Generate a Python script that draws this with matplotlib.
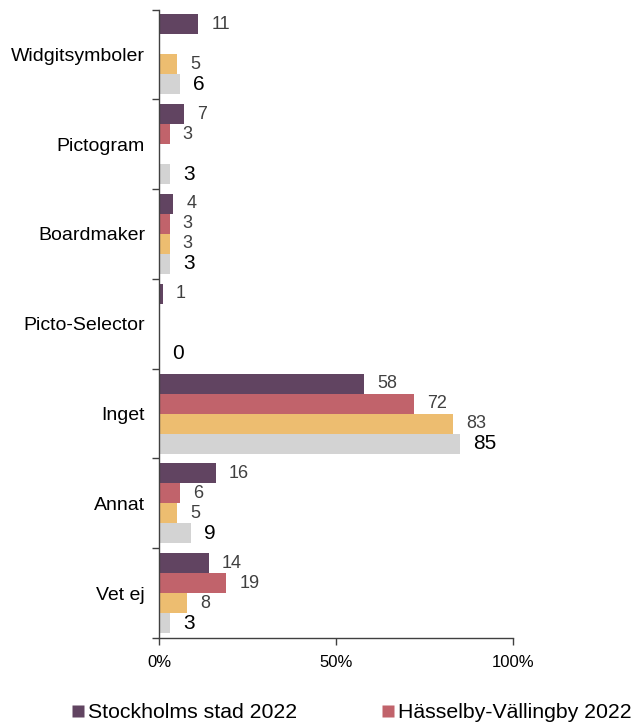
import matplotlib
matplotlib.use("Agg")
import matplotlib.pyplot as plt
from matplotlib.lines import Line2D
import numpy as np

plt.rcParams['font.family'] = ['Liberation Sans', 'DejaVu Sans']

categories = ["Widgitsymboler", "Pictogram", "Boardmaker", "Picto-Selector",
              "Inget", "Annat", "Vet ej"]
series_names = ["Stockholms stad 2022", "Hässelby-Vällingby 2022",
                "Serie 3", "Serie 4"]
stockholm_2022 = [11, 7, 4, 1, 58, 16, 14]
hasselby_2022 = [None, 3, 3, None, 72, 6, 19]
series_3 = [5, None, 3, None, 83, 5, 8]
series_4 = [6, 3, 3, 0, 85, 9, 3]
x_ticks = [0, 50, 100]

colors = ["#614461", "#C1636B", "#EDBD70", "#D3D3D3"]
label_colors = ["#404040", "#404040", "#404040", "#000000"]
label_sizes = [13, 13, 13, 15]

all_series = [stockholm_2022, hasselby_2022, series_3, series_4]

fig = plt.figure(figsize=(6.31, 7.25), dpi=100)
ax = fig.add_axes([159 / 631, 1 - 638 / 725, (513 - 159) / 631, (638 - 9.5) / 725])

n = len(categories)
bw = 0.2227
ypos = np.arange(n)
for j, (vals, col) in enumerate(zip(all_series, colors)):
    for i, v in enumerate(vals):
        if v is None:
            continue
        y = ypos[i] + (j - 1.5) * bw
        ax.barh(y, v, height=bw, color=col, edgecolor='none')
        ax.annotate(f"{v}", xy=(v, y), xytext=(9.5, 0), textcoords='offset points',
                    ha='left', va='center', fontsize=label_sizes[j],
                    color=label_colors[j])

ax.set_xlim(0, 100)
ax.set_ylim(n - 0.5, -0.5)
ax.set_xticks(x_ticks)
ax.set_xticklabels([f"{t}%" for t in x_ticks], fontsize=12, color='black')
ax.set_yticks(ypos)
ax.set_yticklabels(categories, fontsize=14, color='black')
ax.set_yticks(np.arange(n + 1) - 0.5, minor=True)
ax.tick_params(axis='y', which='major', length=0, pad=10)
ax.tick_params(axis='y', which='minor', length=5, width=1, color='#404040', direction='out')
ax.tick_params(axis='x', which='major', length=5, width=1, color='#404040', direction='out', pad=7)

for s in ['top', 'right']:
    ax.spines[s].set_visible(False)
for s in ['left', 'bottom']:
    ax.spines[s].set_color('#404040')
    ax.spines[s].set_linewidth(1)

handles = [Line2D([], [], marker='s', linestyle='none', markersize=8.5,
                  markerfacecolor=colors[k], markeredgecolor='none')
           for k in range(2)]
fig.legend(handles, series_names[:2], loc='center left',
           bbox_to_anchor=(72 / 631, 1 - 713 / 725), ncol=2, frameon=False,
           fontsize=15.3, handlelength=0.6, handletextpad=0.15,
           columnspacing=4.0, borderaxespad=0, borderpad=0)

fig.savefig("out.png", dpi=100)
